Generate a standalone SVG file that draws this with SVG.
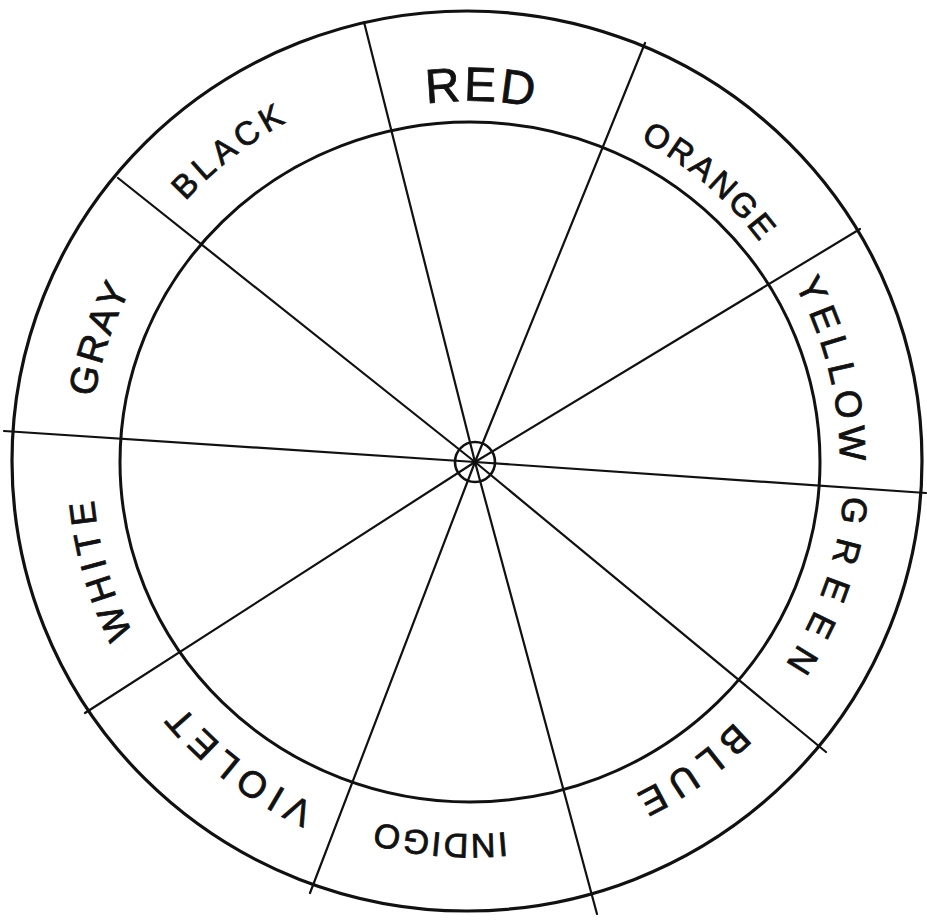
<svg xmlns="http://www.w3.org/2000/svg" xmlns:xlink="http://www.w3.org/1999/xlink" width="927" height="920" viewBox="0 0 927 920">
<style>
  .ring{fill:none;stroke:#111;stroke-linecap:round}
  .spoke{stroke:#111;stroke-width:2.2;stroke-linecap:round}
  .lbl{font-family:"Liberation Sans",Arial,sans-serif;fill:#111;stroke:#111;stroke-width:0.8;text-anchor:middle}
</style>
<defs>
  <path id="p361" d="M470 823 A361 361 0 1 1 470 101 A361 361 0 1 1 470 823 A361 361 0 1 1 470 101 A361 361 0 1 1 470 823"/>
  <path id="p364" d="M470 826 A364 364 0 1 1 470 98 A364 364 0 1 1 470 826 A364 364 0 1 1 470 98 A364 364 0 1 1 470 826"/>
  <path id="p370" d="M470 832 A370 370 0 1 1 470 92 A370 370 0 1 1 470 832 A370 370 0 1 1 470 92 A370 370 0 1 1 470 832"/>
  <path id="p375" d="M470 837 A375 375 0 1 1 470 87 A375 375 0 1 1 470 837 A375 375 0 1 1 470 87 A375 375 0 1 1 470 837"/>
  <path id="p371" d="M470 833 A371 371 0 1 1 470 91 A371 371 0 1 1 470 833 A371 371 0 1 1 470 91 A371 371 0 1 1 470 833"/>
  <path id="p372" d="M470 834 A372 372 0 1 1 470 90 A372 372 0 1 1 470 834 A372 372 0 1 1 470 90 A372 372 0 1 1 470 834"/>
  <path id="p376" d="M470 838 A376 376 0 1 1 470 86 A376 376 0 1 1 470 838 A376 376 0 1 1 470 86 A376 376 0 1 1 470 838"/>
  <path id="p378" d="M470 840 A378 378 0 1 1 470 84 A378 378 0 1 1 470 840 A378 378 0 1 1 470 84 A378 378 0 1 1 470 840"/>
  <path id="p381" d="M470 843 A381 381 0 1 1 470 81 A381 381 0 1 1 470 843 A381 381 0 1 1 470 81 A381 381 0 1 1 470 843"/>
  <path id="p386" d="M470 848 A386 386 0 1 1 470 76 A386 386 0 1 1 470 848 A386 386 0 1 1 470 76 A386 386 0 1 1 470 848"/>
</defs>
<rect width="927" height="920" fill="#fff"/>
<g id="rings">
  <ellipse class="ring" cx="467" cy="461" rx="455" ry="450" stroke-width="3.2"/>
  <ellipse class="ring" cx="470" cy="462" rx="350" ry="340" stroke-width="3"/>
</g>
<g id="spokes">
  <line class="spoke" x1="364" y1="22" x2="475" y2="462"/>
  <line class="spoke" x1="645" y1="43" x2="475" y2="462"/>
  <line class="spoke" x1="860" y1="229" x2="475" y2="462"/>
  <line class="spoke" x1="926" y1="493" x2="475" y2="462" stroke-width="2.6"/>
  <line class="spoke" x1="826" y1="752" x2="475" y2="462"/>
  <line class="spoke" x1="597" y1="914" x2="475" y2="462"/>
  <line class="spoke" x1="310" y1="893" x2="475" y2="462"/>
  <line class="spoke" x1="85" y1="713" x2="475" y2="462"/>
  <line class="spoke" x1="4" y1="431" x2="475" y2="462" stroke-width="2.6"/>
  <line class="spoke" x1="118" y1="178" x2="475" y2="462"/>
</g>
<g id="hub">
  <circle cx="475" cy="462" r="20" fill="none" stroke="#111" stroke-width="2.6"/>
</g>
<g id="label-red"><text class="lbl" font-size="48" letter-spacing="3"><textPath xlink:href="#p361" startOffset="75.25%">RED</textPath></text></g>
<g id="label-orange"><text class="lbl" font-size="33" letter-spacing="3"><textPath xlink:href="#p364" startOffset="80.63%">ORANGE</textPath></text></g>
<g id="label-yellow"><text class="lbl" font-size="37" letter-spacing="6"><textPath xlink:href="#p370" startOffset="85.56%">YELLOW</textPath></text></g>
<g id="label-green"><text class="lbl" font-size="35" letter-spacing="14"><textPath xlink:href="#p375" startOffset="90.28%">GREEN</textPath></text></g>
<g id="label-blue"><text class="lbl" font-size="38" letter-spacing="8"><textPath xlink:href="#p371" startOffset="95.08%">BLUE</textPath></text></g>
<g id="label-indigo"><text class="lbl" font-size="34" letter-spacing="2"><textPath xlink:href="#p372" startOffset="50.64%">INDIGO</textPath></text></g>
<g id="label-violet"><text class="lbl" font-size="37" letter-spacing="7"><textPath xlink:href="#p376" startOffset="55.22%">VIOLET</textPath></text></g>
<g id="label-white"><text class="lbl" font-size="36" letter-spacing="6"><textPath xlink:href="#p378" startOffset="60.28%">WHITE</textPath></text></g>
<g id="label-gray"><text class="lbl" font-size="38" letter-spacing="3"><textPath xlink:href="#p381" startOffset="65.08%">GRAY</textPath></text></g>
<g id="label-black"><text class="lbl" font-size="33" letter-spacing="5"><textPath xlink:href="#p386" startOffset="69.78%">BLACK</textPath></text></g>
</svg>
